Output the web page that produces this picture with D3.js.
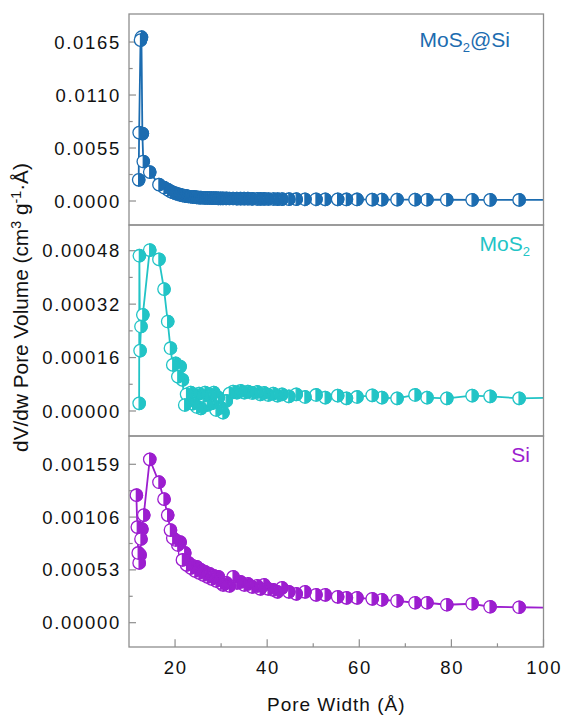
<!DOCTYPE html>
<html>
<head>
<meta charset="utf-8">
<script src="https://cdnjs.cloudflare.com/ajax/libs/d3/7.8.5/d3.min.js"></script>
<style>
  body { margin: 0; background: #fff; }
  svg { display: block; font-family: "Liberation Sans", Arial, Helvetica, sans-serif; }
</style>
</head>
<body>
<svg id="svg" width="563" height="716"></svg>
<script>
// shared pore width grid (Å) after the micropore head
var poreWidth = [14.5, 16.5, 17.6, 18.4, 19.0, 19.5, 20.1, 20.6, 21.1, 21.6,
  22.1, 22.5, 22.9, 23.4, 23.8, 24.3, 24.7, 25.2, 25.6, 26.1,
  26.5, 27.0, 27.5, 27.9, 28.4, 28.9, 29.4, 29.9, 30.4, 31.1,
  31.8, 32.6, 33.4, 34.2, 35.0, 35.8, 36.7, 37.8, 38.5, 39.3,
  40.2, 41.3, 42.2, 43.2, 44.7, 46.3, 48.2, 50.6, 52.6, 55.3,
  57.2, 59.5, 62.8, 64.9, 68.2, 72.1, 74.7, 79.0, 84.5, 88.4,
  94.7, 102];

// MoS2@Si
var headWidthMoS2Si = [12.1, 12.2, 12.5, 12.7, 12.9, 13.1];
var headVolMoS2Si = [0.0022, 0.0071, 0.0167, 0.0170, 0.0070, 0.0041];
var volMoS2Si = [0.0030, 0.0017, 0.00140, 0.00118, 0.00100, 0.00090, 0.00080, 0.00072, 0.00064, 0.00058,
  0.00054, 0.00050, 0.00047, 0.00044, 0.00042, 0.00040, 0.00038, 0.00036, 0.00035, 0.00034,
  0.00033, 0.00032, 0.00031, 0.00030, 0.00030, 0.00029, 0.00028, 0.00028, 0.00027, 0.00027,
  0.00026, 0.00026, 0.00025, 0.00025, 0.00024, 0.00024, 0.00023, 0.00023, 0.00022, 0.00022,
  0.00021, 0.00021, 0.00020, 0.00020, 0.00019, 0.00019, 0.00018, 0.00018, 0.00017, 0.00017,
  0.00016, 0.00016, 0.00015, 0.00015, 0.00014, 0.00014, 0.00013, 0.00013, 0.00012, 0.00012,
  0.00011, 0.00011];

// MoS2
var headWidthMoS2 = [12.2, 12.25, 12.4, 12.6, 13.0];
var headVolMoS2 = [0.000023, 0.000465, 0.000181, 0.000253, 0.000288];
var volMoS2 = [0.000482, 0.000454, 0.000365, 0.000268, 0.000188, 0.000138, 0.000143, 0.000103, 0.000133, 0.000093,
  0.000018, 0.000050, 0.000030, 0.000055, 0.000022, 0.000048, 0.000012, 0.000052, 0.000008, 0.000045,
  0.000055, 0.000018, 0.000050, 0.000023, 0.000055, 0.000003, 0.000040, 0.000010, -0.000005, 0.000030,
  0.000052, 0.000058, 0.000055, 0.000060, 0.000055, 0.000058, 0.000054, 0.000057, 0.000050, 0.000054,
  0.000048, 0.000052, 0.000046, 0.000050, 0.000044, 0.000050, 0.000042, 0.000048, 0.000040, 0.000046,
  0.000038, 0.000042, 0.000047, 0.000040, 0.000038, 0.000048, 0.000040, 0.000038, 0.000046, 0.000044,
  0.000038, 0.000040];

// Si
var headWidthSi = [11.6, 11.8, 12.0, 12.2, 12.4, 12.6, 12.8, 13.2];
var headVolSi = [0.00128, 0.00096, 0.00070, 0.00060, 0.00068, 0.00084, 0.00094, 0.00108];
var volSi = [0.00164, 0.00141, 0.00124, 0.00108, 0.00093, 0.00085, 0.00083, 0.00078, 0.00081, 0.00063,
  0.00070, 0.00058, 0.00060, 0.00055, 0.00057, 0.00052, 0.00056, 0.00050, 0.00053, 0.00048,
  0.00051, 0.00046, 0.00049, 0.00044, 0.00047, 0.00042, 0.00046, 0.00040, 0.00038, 0.00040,
  0.00037, 0.00046, 0.00040, 0.00041, 0.00038, 0.00039, 0.00036, 0.00037, 0.00034, 0.00038,
  0.00034, 0.00033, 0.00031, 0.00035, 0.00031, 0.00029, 0.00031, 0.00028, 0.00028, 0.00026,
  0.00025, 0.00025, 0.00024, 0.00023, 0.00022, 0.00020, 0.00020, 0.00018, 0.00019, 0.00016,
  0.000155, 0.00015];

// axes
var xDomain = [10, 100];
var xTicks = [20, 40, 60, 80, 100];
var xMinorTicks = [30, 50, 70, 90];
var yDomainMoS2Si = [-0.00249, 0.01941];
var yTicksMoS2Si = [0, 0.0055, 0.0110, 0.0165];
var yDomainMoS2 = [-0.0000749, 0.000557];
var yTicksMoS2 = [0, 0.00016, 0.00032, 0.00048];
var yDomainSi = [-0.000244, 0.001874];
var yTicksSi = [0, 0.00053, 0.00106, 0.00159];

var svg = d3.select('#svg');
var left = 129, right = 543.5, top0 = 14, panelH = 211;
var frameColor = '#8e8e8e';
var textColor = '#111';

var x = d3.scaleLinear().domain(xDomain).range([left, right]);

var panels = [
  { widths: headWidthMoS2Si.concat(poreWidth), vols: headVolMoS2Si.concat(volMoS2Si),
    domain: yDomainMoS2Si, ticks: yTicksMoS2Si, fmt: d3.format('.4f'), color: '#1c6cb0',
    label: [['MoS', 0], ['2', 1], ['@Si', 0]], labelX: 510, labelY: 38 },
  { widths: headWidthMoS2.concat(poreWidth), vols: headVolMoS2.concat(volMoS2),
    domain: yDomainMoS2, ticks: yTicksMoS2, fmt: d3.format('.5f'), color: '#22c4c6',
    label: [['MoS', 0], ['2', 1]], labelX: 530, labelY: 31 },
  { widths: headWidthSi.concat(poreWidth), vols: headVolSi.concat(volSi),
    domain: yDomainSi, ticks: yTicksSi, fmt: d3.format('.5f'), color: '#9c1ecf',
    label: [['Si', 0]], labelX: 530, labelY: 31 }
];

panels.forEach(function(p, i) {
  var y0 = top0 + i * panelH, y1 = y0 + panelH;
  var y = d3.scaleLinear().domain(p.domain).range([y1, y0]);
  var g = svg.append('g');

  g.append('clipPath').attr('id', 'clip' + i)
    .append('rect').attr('x', left).attr('y', y0).attr('width', right - left).attr('height', panelH);

  // y ticks (inward) and labels
  var step = p.ticks[1] - p.ticks[0];
  var minors = [];
  p.ticks.forEach(function(t) {
    var m = t + step / 2;
    if (y(m) > y0 + 3) minors.push(m);
  });
  g.selectAll('.ymaj').data(p.ticks).enter().append('line')
    .attr('x1', left).attr('x2', left + 7)
    .attr('y1', function(d) { return y(d); }).attr('y2', function(d) { return y(d); })
    .attr('stroke', frameColor).attr('stroke-width', 1.2);
  g.selectAll('.ymin').data(minors).enter().append('line')
    .attr('x1', left).attr('x2', left + 3.7)
    .attr('y1', function(d) { return y(d); }).attr('y2', function(d) { return y(d); })
    .attr('stroke', frameColor).attr('stroke-width', 1.2);
  g.selectAll('.ylab').data(p.ticks).enter().append('text')
    .attr('x', left - 8).attr('y', function(d) { return y(d) + 6.6; })
    .attr('text-anchor', 'end').attr('font-size', 18.5).attr('letter-spacing', 1.7)
    .attr('fill', textColor)
    .text(function(d) { return p.fmt(d); });

  // line + half-filled markers (drawn from the far end so small widths sit on top)
  var pts = p.widths.map(function(w, k) { return [w, p.vols[k]]; });
  var plot = g.append('g').attr('clip-path', 'url(#clip' + i + ')');
  plot.append('path').datum(pts)
    .attr('fill', 'none').attr('stroke', p.color).attr('stroke-width', 1.8)
    .attr('stroke-linejoin', 'round')
    .attr('d', d3.line().x(function(d) { return x(d[0]); }).y(function(d) { return y(d[1]); }));
  var r = 6.2;
  var mk = plot.selectAll('.mk').data(pts.slice().reverse()).enter().append('g')
    .attr('transform', function(d) { return 'translate(' + x(d[0]) + ',' + y(d[1]) + ')'; });
  mk.append('circle').attr('r', r).attr('fill', '#fff')
    .attr('stroke', p.color).attr('stroke-width', 1.3);
  mk.append('path').attr('d', 'M0,' + (-r) + 'A' + r + ',' + r + ' 0 0 1 0,' + r + 'Z')
    .attr('fill', p.color).attr('stroke', p.color).attr('stroke-width', 1.3);

  // frame
  g.append('rect').attr('x', left).attr('y', y0).attr('width', right - left).attr('height', panelH)
    .attr('fill', 'none').attr('stroke', frameColor).attr('stroke-width', 1.3);

  // sample label
  var lab = g.append('text').attr('x', p.labelX).attr('y', y0 + p.labelY)
    .attr('text-anchor', 'end').attr('font-size', 21).attr('fill', p.color);
  p.label.forEach(function(part) {
    if (part[1]) {
      lab.append('tspan').attr('font-size', 13).attr('dy', 5).text(part[0]);
    } else {
      lab.append('tspan').attr('dy', lab.selectAll('tspan').size() ? -5 : 0).text(part[0]);
    }
  });
});

// x axis on bottom panel
var yb = top0 + 3 * panelH;
svg.selectAll('.xmaj').data(xTicks).enter().append('line')
  .attr('x1', function(d) { return x(d); }).attr('x2', function(d) { return x(d); })
  .attr('y1', yb).attr('y2', yb - 7.7)
  .attr('stroke', frameColor).attr('stroke-width', 1.2);
svg.selectAll('.xmin').data(xMinorTicks).enter().append('line')
  .attr('x1', function(d) { return x(d); }).attr('x2', function(d) { return x(d); })
  .attr('y1', yb).attr('y2', yb - 3.7)
  .attr('stroke', frameColor).attr('stroke-width', 1.2);
svg.selectAll('.xlab').data(xTicks).enter().append('text')
  .attr('x', function(d) { return x(d) + 0.8; }).attr('y', 674)
  .attr('text-anchor', 'middle').attr('font-size', 18.5).attr('letter-spacing', 1.7)
  .attr('fill', textColor)
  .text(function(d) { return d; });

svg.append('text').attr('x', (left + right) / 2).attr('y', 711)
  .attr('text-anchor', 'middle').attr('font-size', 19).attr('letter-spacing', 1)
  .attr('fill', textColor).text('Pore Width (Å)');

// y title, sized to span the same length as the original
var yt = svg.append('text').attr('transform', 'translate(28,307.5) rotate(-90)')
  .attr('text-anchor', 'middle').attr('font-size', 19)
  .attr('fill', textColor);
yt.append('tspan').text('dV/dw Pore Volume (cm');
yt.append('tspan').attr('font-size', 13).attr('dy', -7).text('3');
yt.append('tspan').attr('dy', 7).text(' g');
yt.append('tspan').attr('font-size', 13).attr('dy', -7).text('-1');
yt.append('tspan').attr('dy', 7).text('·Å)');
var len = yt.node().getComputedTextLength();
if (len > 0) {
  var k = 289 / len;
  yt.attr('font-size', 19 * k);
  yt.selectAll('tspan').filter(function() { return this.getAttribute('font-size'); })
    .attr('font-size', 13 * k);
}
</script>
</body>
</html>
